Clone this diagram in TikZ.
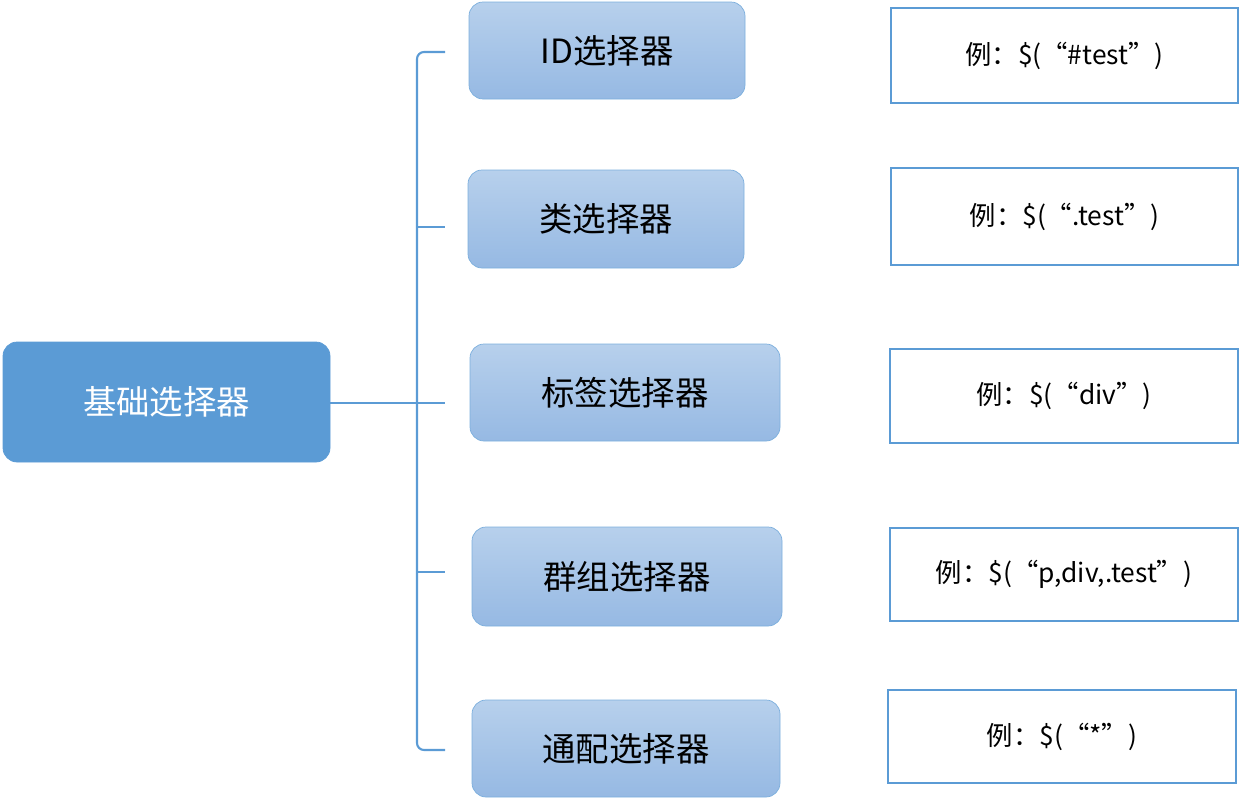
\documentclass[tikz,border=0pt]{standalone}
\usepackage{fontspec}
\setmainfont{Noto Sans CJK SC}
\usepackage{tikz}
\usetikzlibrary{positioning}
\definecolor{rootblue}{HTML}{5B9BD5}
\definecolor{lightA}{HTML}{B7D0EC}
\definecolor{lightB}{HTML}{96B9E3}
\tikzset{
  root/.style={draw=rootblue, fill=rootblue, rounded corners=8pt, text=white, font=\fontsize{19}{22}\selectfont},
  kind/.style={draw=rootblue!80, top color=lightA, bottom color=lightB, rounded corners=8pt, font=\fontsize{19}{22}\selectfont},
  sample/.style={draw=rootblue, line width=1pt, fill=white, font=\fontsize{15}{18}\selectfont},
  bus/.style={draw=rootblue, line width=1.2pt}
}
\begin{document}
\begin{tikzpicture}[x=0.02cm, y=-0.02cm]
    \useasboundingbox (0, 0) rectangle (1254, 805);
    % Root
    \node[root, minimum width=327*0.02cm, minimum height=120*0.02cm] (base) at (166.5, 402) {基础选择器};

    % Selector kinds
    \node[kind, minimum width=276*0.02cm, minimum height=97*0.02cm] (id) at (607, 50.5) {ID选择器};
    \node[kind, minimum width=276*0.02cm, minimum height=98*0.02cm] (cls) at (606, 219) {类选择器};
    \node[kind, minimum width=310*0.02cm, minimum height=97*0.02cm] (tag) at (625, 392.5) {标签选择器};
    \node[kind, minimum width=310*0.02cm, minimum height=99*0.02cm] (grp) at (627, 576.5) {群组选择器};
    \node[kind, minimum width=308*0.02cm, minimum height=97*0.02cm] (all) at (626, 748.5) {通配选择器};

    % Examples
    \node[sample, minimum width=347*0.02cm, minimum height=95*0.02cm] (exid) at (1064.5, 55.5) {例：\$(“\#test”)};
    \node[sample, minimum width=347*0.02cm, minimum height=97*0.02cm] (excls) at (1064.5, 216.5) {例：\$(“.test”)};
    \node[sample, minimum width=348*0.02cm, minimum height=94*0.02cm] (extag) at (1064, 396) {例：\$(“div”)};
    \node[sample, minimum width=348*0.02cm, minimum height=93*0.02cm] (exgrp) at (1064, 574.5) {例：\$(“p,div,.test”)};
    \node[sample, minimum width=348*0.02cm, minimum height=93*0.02cm] (exall) at (1062, 736.5) {例：\$(“*”)};

    % Bracket
    \coordinate (top) at (417, 52);
    \coordinate (bot) at (417, 750);
    \coordinate (mid) at (417, 403);
    \coordinate (tid) at (445, 52);
    \coordinate (tcls) at (445, 227);
    \coordinate (ttag) at (445, 403);
    \coordinate (tgrp) at (445, 572);
    \coordinate (tall) at (445, 750);
    \draw[bus, rounded corners=4pt] (tid) -- (top) -- (bot) -- (tall);
    \draw[bus] (base.east |- mid) -- (ttag);
    \draw[bus] (417, 227) -- (tcls);
    \draw[bus] (417, 572) -- (tgrp);
\end{tikzpicture}
\end{document}
